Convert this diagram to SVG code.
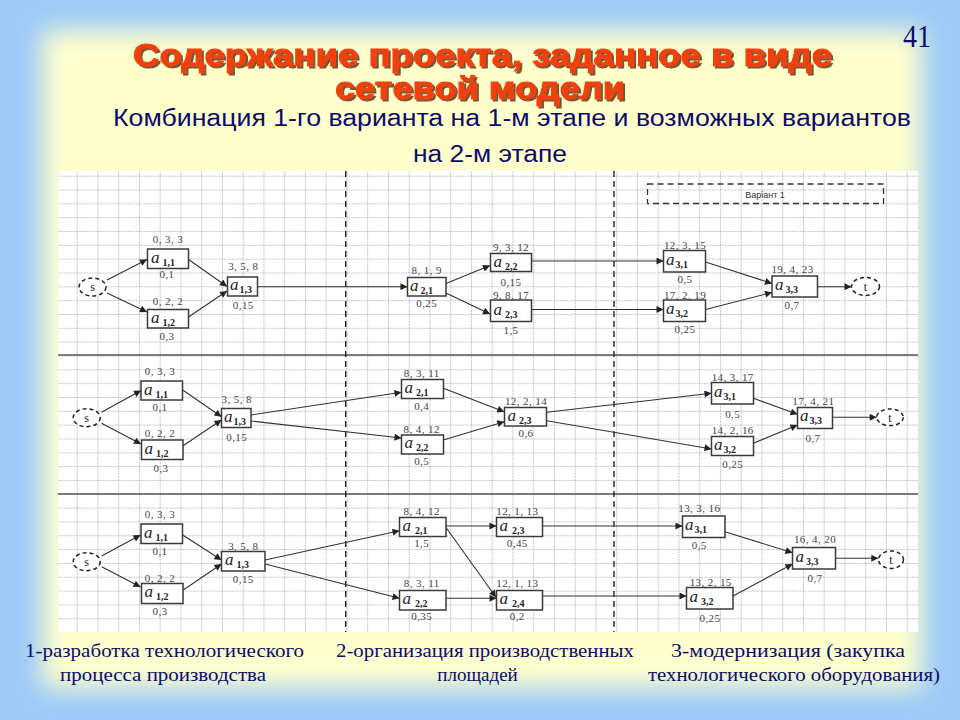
<svg xmlns="http://www.w3.org/2000/svg" width="960" height="720" viewBox="0 0 960 720">
<defs>
<filter id="soft" x="-10%" y="-10%" width="120%" height="120%"><feGaussianBlur stdDeviation="13"/></filter>
<filter id="shadow" x="-5%" y="-20%" width="110%" height="150%"><feDropShadow dx="2" dy="2" stdDeviation="0.7" flood-color="#4a1a00" flood-opacity="0.75"/></filter>
<pattern id="grid" x="76.7" y="175.7" width="20.75" height="13.83" patternUnits="userSpaceOnUse">
<path d="M0.5 0V13.83M0 0.5H20.75" stroke="#bcbcbc" stroke-width="1" stroke-dasharray="1.5,1" fill="none"/>
</pattern>
<marker id="arr" viewBox="0 0 10 10" refX="10" refY="5" markerWidth="9" markerHeight="7" markerUnits="userSpaceOnUse" orient="auto"><path d="M0,0 L10,5 L0,10 z" fill="#222"/></marker>
<style>
.title{font-family:"Liberation Sans",Arial,sans-serif;font-weight:bold;font-size:32px;fill:#f2400f;stroke:#f2400f;stroke-width:1;text-anchor:middle}
.sub{font-family:"Liberation Sans",Arial,sans-serif;font-size:23px;fill:#0b0b6e}
.foot{font-family:"Liberation Serif","Times New Roman",serif;font-size:19px;fill:#0b0b6e}
.num{font-family:"Liberation Serif","Times New Roman",serif;font-size:32px;fill:#0b0b6e}
.box{fill:#fff;stroke:#3a3a3a;stroke-width:1.5}
.ev{fill:#fff;stroke:#222;stroke-width:1.5;stroke-dasharray:4,3}
.ev-t{font-family:"Liberation Serif",serif;font-size:12px;fill:#222;text-anchor:middle}
.lbl{font-family:"Liberation Serif","Times New Roman",serif;font-size:11px;fill:#444;text-anchor:middle;letter-spacing:0.4px}
.av{font-family:"Liberation Serif","Times New Roman",serif;font-style:italic;font-size:17px;fill:#222}
.sb{font-style:normal;font-weight:bold;font-size:10px}
.edge line{stroke:#333;stroke-width:1.1;marker-end:url(#arr)}
.sep{stroke:#222;stroke-width:1.4;stroke-dasharray:6,4}
.div{stroke:#555;stroke-width:1.5}
</style>
</defs>

<!-- background -->
<rect x="0" y="0" width="960" height="720" fill="#9ccaf7"/>
<rect x="42" y="30" width="880" height="658" fill="#ffffcc" filter="url(#soft)"/>

<!-- title -->
<g id="title" filter="url(#shadow)">
<text class="title" x="482.5" y="66" textLength="699" lengthAdjust="spacingAndGlyphs">Содержание проекта, заданное в виде</text>
<text class="title" x="480" y="98.5" textLength="290" lengthAdjust="spacingAndGlyphs">сетевой модели</text>
</g>
<text class="num" x="903" y="46.5" textLength="28" lengthAdjust="spacingAndGlyphs">41</text>
<text class="sub" x="113" y="125.5" textLength="798" lengthAdjust="spacingAndGlyphs">Комбинация 1-го варианта на 1-м этапе и возможных вариантов</text>
<text class="sub" x="413" y="162" textLength="154" lengthAdjust="spacingAndGlyphs">на 2-м этапе</text>

<!-- diagram area -->
<rect x="58" y="171" width="860" height="461" fill="#fff"/>
<rect x="58" y="171" width="860" height="461" fill="url(#grid)"/>
<line class="div" x1="58" y1="355" x2="918" y2="355"/>
<line class="div" x1="58" y1="494" x2="918" y2="494"/>
<line class="sep" x1="345.7" y1="171" x2="345.7" y2="632"/>
<line class="sep" x1="614" y1="171" x2="614" y2="632"/>

<g id="variant">
<rect x="647.5" y="184" width="236" height="19.5" fill="none" stroke="#333" stroke-width="1.3" stroke-dasharray="6,4"/>
<text x="765" y="198" font-family="Liberation Sans,Arial,sans-serif" font-size="9" fill="#333" text-anchor="middle">Варіант 1</text>
</g>

<!-- connectors -->
<g id="connectors" class="edge">
<!-- panel 1 -->
<line x1="107" y1="280" x2="147" y2="259.5"/>
<line x1="107" y1="293" x2="147" y2="312"/>
<line x1="188.5" y1="259.5" x2="227" y2="286.5"/>
<line x1="188.5" y1="317" x2="227" y2="291"/>
<line x1="257.5" y1="286.7" x2="407.5" y2="286.7"/>
<line x1="446" y1="283.5" x2="490" y2="265.5"/>
<line x1="446" y1="293" x2="490" y2="314"/>
<line x1="531.5" y1="261" x2="663.5" y2="261"/>
<line x1="531.5" y1="309.5" x2="663.5" y2="309.5"/>
<line x1="705.5" y1="262" x2="772" y2="283.5"/>
<line x1="705.5" y1="309.5" x2="772" y2="292.5"/>
<line x1="817.5" y1="286.7" x2="851.5" y2="286.7"/>
<!-- panel 2 -->
<line x1="101.5" y1="412.3" x2="141" y2="390.5"/>
<line x1="101.5" y1="423.3" x2="141" y2="444"/>
<line x1="182.7" y1="390" x2="221.5" y2="416.7"/>
<line x1="183" y1="445.7" x2="221.5" y2="420"/>
<line x1="251" y1="415" x2="401.5" y2="392.3"/>
<line x1="251" y1="421" x2="401.5" y2="438"/>
<line x1="443.3" y1="388.3" x2="504.3" y2="411.7"/>
<line x1="443.3" y1="440" x2="504.3" y2="421.7"/>
<line x1="546.7" y1="412.3" x2="711.5" y2="393.3"/>
<line x1="546.7" y1="420.7" x2="711.5" y2="449"/>
<line x1="753.3" y1="398.3" x2="797.5" y2="414.3"/>
<line x1="753.3" y1="443.3" x2="797.5" y2="425"/>
<line x1="832.3" y1="417.3" x2="876.7" y2="417.3"/>
<!-- panel 3 -->
<line x1="101.7" y1="556" x2="140.5" y2="535"/>
<line x1="101.7" y1="566.7" x2="140.5" y2="587"/>
<line x1="182.7" y1="535" x2="221.5" y2="560"/>
<line x1="183.3" y1="590" x2="221.5" y2="564"/>
<line x1="265" y1="560" x2="399.5" y2="530.7"/>
<line x1="265" y1="564" x2="399.5" y2="598.3"/>
<line x1="446" y1="526" x2="496.5" y2="526"/>
<line x1="446" y1="527.5" x2="496" y2="597.3"/>
<line x1="446" y1="598.3" x2="496.5" y2="598.3"/>
<line x1="542.7" y1="526" x2="682.5" y2="526"/>
<line x1="542.7" y1="596" x2="686.5" y2="596"/>
<line x1="725" y1="531.7" x2="792.5" y2="552.7"/>
<line x1="733" y1="596" x2="792.5" y2="564"/>
<line x1="835.7" y1="558.3" x2="878.3" y2="558.3"/>
</g>

<!-- panel 1 nodes -->
<g id="p1-s"><ellipse class="ev" cx="92.5" cy="287" rx="13.5" ry="9"/><text class="ev-t" x="92.5" y="291">s</text></g>
<g id="p1-a11"><rect class="box" x="147.5" y="249" width="41" height="19.5"/><text class="lbl" x="168" y="242.5">0, 3, 3</text><text class="av" x="151" y="262.5">a<tspan class="sb" dx="3" dy="3">1,1</tspan></text><text class="lbl" x="167" y="278">0,1</text></g>
<g id="p1-a12"><rect class="box" x="147.5" y="309.5" width="41" height="18.5"/><text class="lbl" x="168" y="305">0, 2, 2</text><text class="av" x="151" y="322.5">a<tspan class="sb" dx="3" dy="3">1,2</tspan></text><text class="lbl" x="167" y="340">0,3</text></g>
<g id="p1-a13"><rect class="box" x="227.5" y="277" width="30" height="19"/><text class="lbl" x="243.3" y="270.4">3, 5, 8</text><text class="av" x="230" y="290">a<tspan class="sb" dx="1" dy="3">1,3</tspan></text><text class="lbl" x="243.3" y="308.5">0,15</text></g>
<g id="p1-a21"><rect class="box" x="407.5" y="277.5" width="38.5" height="18.5"/><text class="lbl" x="426.7" y="274.4">8, 1, 9</text><text class="av" x="410" y="290.5">a<tspan class="sb" dx="2" dy="3">2,1</tspan></text><text class="lbl" x="426.7" y="306.5">0,25</text></g>
<g id="p1-a22"><rect class="box" x="490.5" y="253.5" width="41" height="18"/><text class="lbl" x="511" y="250.7">9, 3, 12</text><text class="av" x="493.5" y="266.5">a<tspan class="sb" dx="3" dy="3">2,2</tspan></text><text class="lbl" x="511" y="286">0,15</text></g>
<g id="p1-a23"><rect class="box" x="490.5" y="300" width="41" height="21.5"/><text class="lbl" x="511" y="298.5">9, 8, 17</text><text class="av" x="493.5" y="314.5">a<tspan class="sb" dx="3" dy="3">2,3</tspan></text><text class="lbl" x="511" y="333.5">1,5</text></g>
<g id="p1-a31"><rect class="box" x="663.5" y="250.5" width="42" height="21.5"/><text class="lbl" x="685" y="249">12, 3, 15</text><text class="av" x="666" y="264.5">a<tspan class="sb" dx="1" dy="3">3,1</tspan></text><text class="lbl" x="685" y="283">0,5</text></g>
<g id="p1-a32"><rect class="box" x="663.5" y="300" width="42" height="21.5"/><text class="lbl" x="685" y="298.5">17, 2, 19</text><text class="av" x="666" y="314">a<tspan class="sb" dx="1" dy="3">3,2</tspan></text><text class="lbl" x="685" y="332.5">0,25</text></g>
<g id="p1-a33"><rect class="box" x="772" y="276" width="45.5" height="21"/><text class="lbl" x="792.5" y="272.5">19, 4, 23</text><text class="av" x="775" y="290">a<tspan class="sb" dx="2" dy="3">3,3</tspan></text><text class="lbl" x="792" y="308.5">0,7</text></g>
<g id="p1-t"><ellipse class="ev" cx="865.5" cy="286.5" rx="14" ry="9"/><text class="ev-t" x="865.5" y="291">t</text></g>

<!-- panel 2 nodes -->
<g id="p2-s"><ellipse class="ev" cx="86.7" cy="417.7" rx="13.5" ry="9"/><text class="ev-t" x="86.7" y="421.7">s</text></g>
<g id="p2-a11"><rect class="box" x="141" y="381" width="41.5" height="19"/><text class="lbl" x="160" y="375">0, 3, 3</text><text class="av" x="144" y="394.5">a<tspan class="sb" dx="3" dy="3">1,1</tspan></text><text class="lbl" x="160" y="410.5">0,1</text></g>
<g id="p2-a12"><rect class="box" x="141.5" y="440" width="41.5" height="19.5"/><text class="lbl" x="160" y="436.7">0, 2, 2</text><text class="av" x="144.5" y="453.5">a<tspan class="sb" dx="3" dy="3">1,2</tspan></text><text class="lbl" x="161" y="471.5">0,3</text></g>
<g id="p2-a13"><rect class="box" x="221.5" y="408.5" width="29.5" height="19"/><text class="lbl" x="236.7" y="402.7">3, 5, 8</text><text class="av" x="224" y="421.5">a<tspan class="sb" dx="1" dy="3">1,3</tspan></text><text class="lbl" x="236.7" y="440.5">0,15</text></g>
<g id="p2-a21"><rect class="box" x="401.5" y="379.5" width="42" height="19"/><text class="lbl" x="421.7" y="377">8, 3, 11</text><text class="av" x="404.5" y="392.5">a<tspan class="sb" dx="3" dy="3">2,1</tspan></text><text class="lbl" x="421.7" y="410">0,4</text></g>
<g id="p2-a22"><rect class="box" x="401.5" y="435" width="42" height="19"/><text class="lbl" x="421.7" y="432.7">8, 4, 12</text><text class="av" x="404.5" y="448">a<tspan class="sb" dx="3" dy="3">2,2</tspan></text><text class="lbl" x="421.7" y="465">0,5</text></g>
<g id="p2-a23"><rect class="box" x="504.5" y="407.5" width="42" height="18.5"/><text class="lbl" x="526" y="405">12, 2, 14</text><text class="av" x="507.5" y="420.5">a<tspan class="sb" dx="3" dy="3">2,3</tspan></text><text class="lbl" x="526" y="436.5">0,6</text></g>
<g id="p2-a31"><rect class="box" x="711.5" y="382.5" width="42" height="21.5"/><text class="lbl" x="732.7" y="380.5">14, 3, 17</text><text class="av" x="714" y="396.5">a<tspan class="sb" dx="1" dy="3">3,1</tspan></text><text class="lbl" x="732.7" y="417.5">0,5</text></g>
<g id="p2-a32"><rect class="box" x="711.5" y="436.5" width="42" height="19"/><text class="lbl" x="732.7" y="433.5">14, 2, 16</text><text class="av" x="714" y="449.5">a<tspan class="sb" dx="1" dy="3">3,2</tspan></text><text class="lbl" x="732.7" y="467.5">0,25</text></g>
<g id="p2-a33"><rect class="box" x="797.5" y="407.5" width="35" height="21"/><text class="lbl" x="813.3" y="405">17, 4, 21</text><text class="av" x="800" y="421">a<tspan class="sb" dx="1" dy="3">3,3</tspan></text><text class="lbl" x="813" y="441.5">0,7</text></g>
<g id="p2-t"><ellipse class="ev" cx="890" cy="417.3" rx="13.3" ry="8.3"/><text class="ev-t" x="890" y="421.5">t</text></g>

<!-- panel 3 nodes -->
<g id="p3-s"><ellipse class="ev" cx="86.7" cy="561.7" rx="13.5" ry="9"/><text class="ev-t" x="86.7" y="565.7">s</text></g>
<g id="p3-a11"><rect class="box" x="141" y="524" width="41.5" height="19.5"/><text class="lbl" x="160" y="518.4">0, 3, 3</text><text class="av" x="144" y="537.5">a<tspan class="sb" dx="3" dy="3">1,1</tspan></text><text class="lbl" x="160" y="554.5">0,1</text></g>
<g id="p3-a12"><rect class="box" x="141.5" y="583.5" width="41.5" height="20"/><text class="lbl" x="160" y="581.5">0, 2, 2</text><text class="av" x="144.5" y="597">a<tspan class="sb" dx="3" dy="3">1,2</tspan></text><text class="lbl" x="160" y="615">0,3</text></g>
<g id="p3-a13"><rect class="box" x="221.5" y="551.5" width="43.5" height="19.5"/><text class="lbl" x="243.3" y="550">3, 5, 8</text><text class="av" x="225" y="565">a<tspan class="sb" dx="3" dy="3">1,3</tspan></text><text class="lbl" x="243.3" y="582.5">0,15</text></g>
<g id="p3-a21"><rect class="box" x="399.5" y="517.5" width="46.5" height="19"/><text class="lbl" x="421.7" y="514.5">8, 4, 12</text><text class="av" x="402.5" y="530.5">a<tspan class="sb" dx="4" dy="3">2,1</tspan></text><text class="lbl" x="421.7" y="547">1,5</text></g>
<g id="p3-a22"><rect class="box" x="399.5" y="590.5" width="46.5" height="19.5"/><text class="lbl" x="421.7" y="587">8, 3, 11</text><text class="av" x="402.5" y="604">a<tspan class="sb" dx="4" dy="3">2,2</tspan></text><text class="lbl" x="421.7" y="619.5">0,35</text></g>
<g id="p3-a23"><rect class="box" x="496.5" y="517.5" width="46" height="19"/><text class="lbl" x="517.3" y="514.5">12, 1, 13</text><text class="av" x="499.5" y="530.5">a<tspan class="sb" dx="4" dy="3">2,3</tspan></text><text class="lbl" x="517.3" y="547">0,45</text></g>
<g id="p3-a24"><rect class="box" x="496.5" y="590.5" width="46" height="19.5"/><text class="lbl" x="517.3" y="587">12, 1, 13</text><text class="av" x="499.5" y="604">a<tspan class="sb" dx="4" dy="3">2,4</tspan></text><text class="lbl" x="517.3" y="619.5">0,2</text></g>
<g id="p3-a31"><rect class="box" x="682.5" y="516" width="42.5" height="21.5"/><text class="lbl" x="699.3" y="512">13, 3, 16</text><text class="av" x="685" y="530">a<tspan class="sb" dx="1" dy="3">3,1</tspan></text><text class="lbl" x="699.3" y="548.5">0,5</text></g>
<g id="p3-a32"><rect class="box" x="686.5" y="587.5" width="46.5" height="21.5"/><text class="lbl" x="710.7" y="585.5">13, 2, 15</text><text class="av" x="689.5" y="601.5">a<tspan class="sb" dx="3" dy="3">3,2</tspan></text><text class="lbl" x="710" y="621.5">0,25</text></g>
<g id="p3-a33"><rect class="box" x="792.5" y="547.5" width="43" height="21.5"/><text class="lbl" x="815" y="543">16, 4, 20</text><text class="av" x="795.5" y="561.5">a<tspan class="sb" dx="2" dy="3">3,3</tspan></text><text class="lbl" x="815" y="582">0,7</text></g>
<g id="p3-t"><ellipse class="ev" cx="891" cy="559.7" rx="12.5" ry="8.7"/><text class="ev-t" x="891" y="564">t</text></g>

<!-- footer captions -->
<text class="foot" x="25" y="657" textLength="279" lengthAdjust="spacingAndGlyphs">1-разработка технологического</text>
<text class="foot" x="60" y="681" textLength="206" lengthAdjust="spacingAndGlyphs">процесса производства</text>
<text class="foot" x="336" y="657" textLength="298" lengthAdjust="spacingAndGlyphs">2-организация производственных</text>
<text class="foot" x="477.5" y="681" text-anchor="middle">площадей</text>
<text class="foot" x="671" y="657" textLength="234" lengthAdjust="spacingAndGlyphs">3-модернизация (закупка</text>
<text class="foot" x="648" y="681" textLength="292" lengthAdjust="spacingAndGlyphs">технологического оборудования)</text>
</svg>
